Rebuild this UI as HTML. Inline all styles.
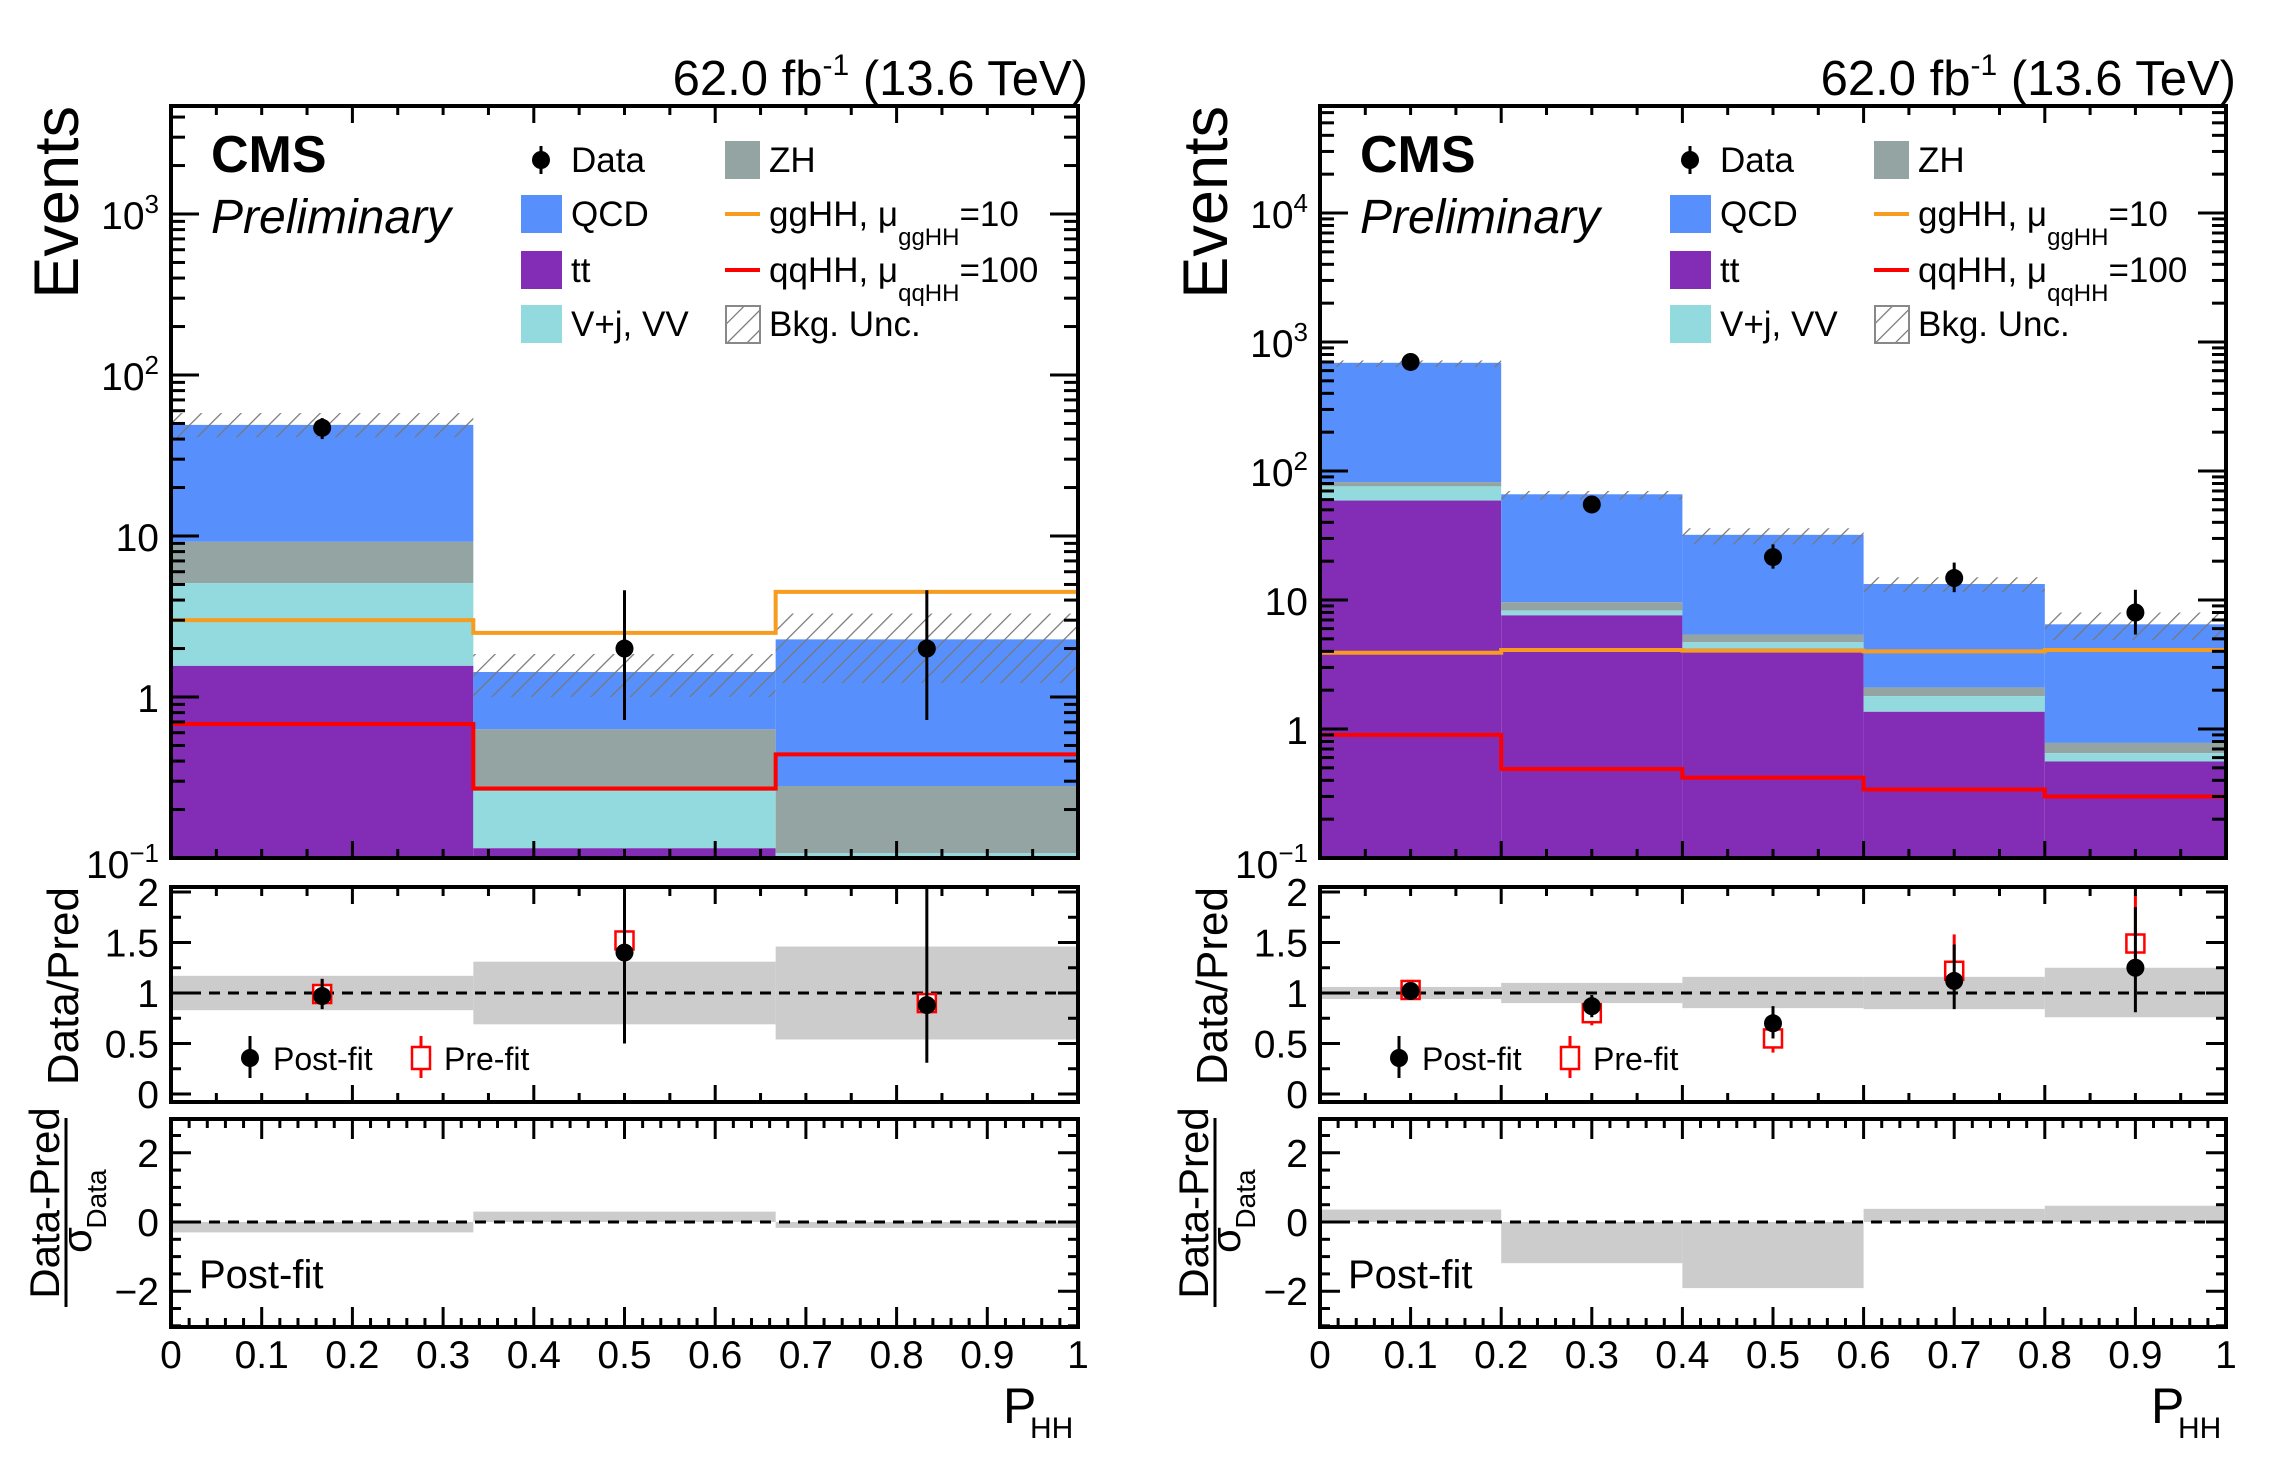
<!DOCTYPE html>
<html><head><meta charset="utf-8"><style>
html,body{margin:0;padding:0;background:#fff;}
svg{display:block;font-family:"Liberation Sans",Arial,sans-serif;}
</style></head><body>
<svg id="chart" width="2284" height="1468" viewBox="0 0 2284 1468" xmlns="http://www.w3.org/2000/svg">
<defs>
<pattern id="hatch" patternUnits="userSpaceOnUse" width="14" height="14" patternTransform="rotate(45)">
<line x1="0" y1="0" x2="0" y2="14" stroke="#777" stroke-width="2.5"/>
</pattern>
</defs>
</svg>
<script>
// ---------- LEFT PANEL DATA ----------
const leftEdges=[0,1/3,2/3,1];
const leftTT=[1.56,0.115,0.1];
const leftVJ=[3.54,0.145,0.007];
const leftZH=[4.1,0.37,0.173];
const leftQCD=[39.8,0.8,2.0];
const leftGG=[3.0,2.5,4.5];
const leftQQ=[0.68,0.27,0.44];
const leftUncLo=[41,1.0,1.22];
const leftUncHi=[58,1.85,3.3];
const leftData=[47,2,2];
const leftDataLo=[40,0.72,0.72];
const leftDataHi=[54,4.6,4.6];
const leftPost=[0.97,1.40,0.88];
const leftPostLo=[0.84,0.5,0.31];
const leftPostHi=[1.14,2.4,2.4];
const leftPre=[0.99,1.52,0.90];
const leftPreLo=[0.88,1.42,0.81];
const leftPreHi=[1.14,1.61,1.0];
const leftBandLo=[0.83,0.69,0.54];
const leftBandHi=[1.17,1.31,1.46];
const leftPull=[-0.3,0.3,-0.17];
const leftYLabels=[[3,"10","3"],[2,"10","2"],[1,"10",""],[0,"1",""],[-1,"10","\u22121"]];
// ---------- RIGHT PANEL DATA ----------
const rightEdges=[0,0.2,0.4,0.6,0.8,1];
const rightTT=[59,7.6,4.2,1.36,0.56];
const rightVJ=[17,0.7,0.5,0.44,0.09];
const rightZH=[6,1.3,0.7,0.3,0.13];
const rightQCD=[608,56.4,26.6,11.2,5.7];
const rightGG=[3.9,4.1,4.05,4.0,4.1];
const rightQQ=[0.9,0.49,0.42,0.34,0.30];
const rightUncLo=[640,60,27,11.5,4.9];
const rightUncHi=[720,70,36,15,8.0];
const rightData=[700,55,21.5,14.8,8];
const rightDataLo=[675,48,17.5,11.5,5.4];
const rightDataHi=[725,62,27,19.5,12];
const rightPost=[1.02,0.87,0.70,1.12,1.25];
const rightPostLo=[0.97,0.76,0.55,0.84,0.81];
const rightPostHi=[1.07,0.98,0.87,1.48,1.85];
const rightPre=[1.03,0.80,0.55,1.22,1.49];
const rightPreLo=[0.95,0.68,0.41,1.10,1.35];
const rightPreHi=[1.11,0.88,0.65,1.58,1.97];
const rightBandLo=[0.94,0.90,0.85,0.84,0.76];
const rightBandHi=[1.06,1.10,1.16,1.16,1.25];
const rightPull=[0.36,-1.19,-1.91,0.38,0.47];
const rightYLabels=[[4,"10","4"],[3,"10","3"],[2,"10","2"],[1,"10",""],[0,"1",""],[-1,"10","\u22121"]];
const xTickLabels=["0","0.1","0.2","0.3","0.4","0.5","0.6","0.7","0.8","0.9","1"];
const ratioTickLabels=["0","0.5","1","1.5","2"];
const pullTickLabels=["\u22122","0","2"];

const NS="http://www.w3.org/2000/svg";
const svg=document.getElementById("chart");
function mk(tag,parent,attrs){const e=document.createElementNS(NS,tag);for(const k in attrs)e.setAttribute(k,attrs[k]);parent.appendChild(e);return e;}

const COL={tt:"#832db6",vj:"#92dadd",zh:"#94a4a2",qcd:"#5790fc",gg:"#f89c20",qq:"#ff0000"};
const MT=106,MB=858,RT=887,RB=1102,PT=1119,PB=1327;

function panel(id,ox,x0,x1,dec,D){
  const g=mk("g",svg,{});
  
  
  const X=v=>x0+v*(x1-x0);
  const YM=v=>MB-(Math.log10(v)+1)*dec;
  const YR=v=>993-(v-1)*101;
  const YP=v=>1222-v*34.6;
  const defs=svg.querySelector("defs");
  const cpM=mk("clipPath",defs,{id:id+"cm"});mk("rect",cpM,{x:x0,y:MT,width:x1-x0,height:MB-MT});
  const cpR=mk("clipPath",defs,{id:id+"cr"});mk("rect",cpR,{x:x0,y:RT,width:x1-x0,height:RB-RT});
  const cpP=mk("clipPath",defs,{id:id+"cp"});mk("rect",cpP,{x:x0,y:PT,width:x1-x0,height:PB-PT});
  const gm=mk("g",g,{"clip-path":"url(#"+id+"cm)"});
  
  
  const E=D.edges;
  for(let i=0;i<E.length-1;i++){
    const xa=X(E[i]),xb=X(E[i+1]);
    const c1=D.tt[i],c2=c1+D.vj[i],c3=c2+D.zh[i],c4=c3+D.qcd[i];
    const r1=mk("rect",gm,{x:xa,y:YM(c4),width:xb-xa,height:YM(c3)-YM(c4),fill:COL.qcd});
    
    
    const r2=mk("rect",gm,{x:xa,y:YM(c3),width:xb-xa,height:YM(c2)-YM(c3),fill:COL.zh});
    
    
    const r3=mk("rect",gm,{x:xa,y:YM(c2),width:xb-xa,height:YM(c1)-YM(c2),fill:COL.vj});
    
    
    const r4=mk("rect",gm,{x:xa,y:YM(c1),width:xb-xa,height:MB-YM(c1)+5,fill:COL.tt});
    
    
    const h=mk("rect",gm,{x:xa,y:YM(D.uncHi[i]),width:xb-xa,height:YM(D.uncLo[i])-YM(D.uncHi[i]),fill:"url(#hatch)"});
    
    
  }
  function step(arr,col,name){
    let d="M"+X(E[0])+" "+YM(arr[0]);
    for(let i=0;i<arr.length;i++){d+=" H"+X(E[i+1]);if(i+1<arr.length)d+=" V"+YM(arr[i+1]);}
    const p=mk("path",gm,{d:d,fill:"none",stroke:col,"stroke-width":4});
    
    
  }
  step(D.gg,COL.gg,'gghh-line');
  step(D.qq,COL.qq,'qqhh-line');
  for(let i=0;i<D.data.length;i++){
    const cx=X((E[i]+E[i+1])/2);
    const l=mk("line",gm,{x1:cx,x2:cx,y1:YM(D.dHi[i]),y2:YM(D.dLo[i]),stroke:"#000","stroke-width":3});
    
    
    const c=mk("circle",gm,{cx:cx,cy:YM(D.data[i]),r:9,fill:"#000"});
    
    
  }
  const gr=mk("g",g,{"clip-path":"url(#"+id+"cr)"});
  
  
  for(let i=0;i<E.length-1;i++){
    const b=mk("rect",gr,{x:X(E[i]),y:YR(D.bHi[i]),width:X(E[i+1])-X(E[i]),height:YR(D.bLo[i])-YR(D.bHi[i]),fill:"#cccccc"});
    
    
  }
  const dl=mk("line",gr,{x1:x0,x2:x1,y1:YR(1),y2:YR(1),stroke:"#000","stroke-width":3,"stroke-dasharray":"11 8"});
  
  
  for(let i=0;i<D.post.length;i++){
    const cx=X((E[i]+E[i+1])/2);
    const pl=mk("line",gr,{x1:cx,x2:cx,y1:YR(D.preHi[i]),y2:YR(D.preLo[i]),stroke:"#f00","stroke-width":3});
    
    
    const pb=mk("rect",gr,{x:cx-9,y:YR(D.pre[i])-9,width:18,height:18,fill:"#fff",stroke:"#f00","stroke-width":2.5});
    
    
    const ql=mk("line",gr,{x1:cx,x2:cx,y1:YR(D.postHi[i]),y2:YR(D.postLo[i]),stroke:"#000","stroke-width":3});
    
    
    const qc=mk("circle",gr,{cx:cx,cy:YR(D.post[i]),r:9,fill:"#000"});
    
    
  }
  const lg=mk("g",g,{});
  
  
  mk("line",lg,{x1:ox+250,x2:ox+250,y1:1036,y2:1078,stroke:"#000","stroke-width":3});
  mk("circle",lg,{cx:ox+250,cy:1058,r:9,fill:"#000"});
  const t1=mk("text",lg,{x:ox+273,y:1070,"font-size":32});t1.textContent="Post-fit";
  mk("line",lg,{x1:ox+421,x2:ox+421,y1:1036,y2:1078,stroke:"#f00","stroke-width":3});
  mk("rect",lg,{x:ox+412,y:1047,width:18,height:22,fill:"#fff",stroke:"#f00","stroke-width":2.5});
  const t2=mk("text",lg,{x:ox+444,y:1070,"font-size":32});t2.textContent="Pre-fit";
  const gp=mk("g",g,{"clip-path":"url(#"+id+"cp)"});
  
  
  for(let i=0;i<D.pull.length;i++){
    const v=D.pull[i];
    const r=mk("rect",gp,{x:X(E[i]),y:Math.min(YP(0),YP(v)),width:X(E[i+1])-X(E[i]),height:Math.abs(YP(v)-YP(0)),fill:"#cccccc"});
    
    
  }
  const pl0=mk("line",gp,{x1:x0,x2:x1,y1:YP(0),y2:YP(0),stroke:"#000","stroke-width":3,"stroke-dasharray":"11 8"});
  
  
  const pf=mk("text",g,{x:ox+199,y:1288,"font-size":40});pf.textContent="Post-fit";
  
  
  const tk=mk("g",g,{stroke:"#000","stroke-width":3});
  
  
  function tl(xa,ya,xb,yb){mk("line",tk,{x1:xa,y1:ya,x2:xb,y2:yb});}
  for(let k=0;k<=20;k++){
    const x=X(k*0.05);const maj=(k%4===0);const L=maj?17:9;
    tl(x,MB,x,MB-L);tl(x,MT,x,MT+L);tl(x,RB,x,RB-L);tl(x,RT,x,RT+L);
  }
  for(let k=0;k<=50;k++){
    const x=X(k*0.02);const maj=(k%5===0);const L=maj?20:9;
    tl(x,PB,x,PB-L);tl(x,PT,x,PT+L);
  }
  for(let e=-1;e<=6;e++){
    for(let m=1;m<=9;m++){
      const v=m*Math.pow(10,e);const y=YM(v);if(y<MT||y>MB)continue;
      const L=(m===1)?28:14;tl(x0,y,x0+L,y);tl(x1,y,x1-L,y);
    }
  }
  for(let k=0;k<=8;k++){const y=YR(k*0.25);const L=(k%2===0)?20:10;tl(x0,y,x0+L,y);tl(x1,y,x1-L,y);}
  for(let k=-6;k<=6;k++){const y=YP(k*0.5);if(y<PT||y>PB)continue;const L=(k%4===0)?20:10;tl(x0,y,x0+L,y);tl(x1,y,x1-L,y);}
  for(const [a,b,n] of [[MT,MB,'main-frame'],[RT,RB,'ratio-frame'],[PT,PB,'pull-frame']]){
    const f=mk("rect",g,{x:x0,y:a,width:x1-x0,height:b-a,fill:"none",stroke:"#000","stroke-width":4});
    
    
  }
  const lab=mk("g",g,{"font-size":39});
  
  
  xTickLabels.forEach((s,k)=>{const t=mk("text",lab,{x:X(k/10),y:1368,"text-anchor":"middle"});t.textContent=s;});
  D.ylab.forEach(([e,b,sup])=>{
    let y=YM(Math.pow(10,e))+15; if(e===-1) y=MB+20;
    const t=mk("text",lab,{x:ox+159,y:y,"text-anchor":"end"});
    t.appendChild(document.createTextNode(b));
    if(sup){const s=mk("tspan",t,{"font-size":26,dy:-16});s.textContent=sup;}
  });
  ratioTickLabels.forEach((s,k)=>{const t=mk("text",lab,{x:ox+159,y:YR(k*0.5)+14,"text-anchor":"end"});t.textContent=s;});
  pullTickLabels.forEach((s,k)=>{const t=mk("text",lab,{x:ox+159,y:YP((k-1)*2)+14,"text-anchor":"end"});t.textContent=s;});
  const ev=mk("text",g,{transform:"translate("+(ox+78)+","+MT+") rotate(-90)","text-anchor":"end","font-size":63});ev.textContent="Events";
  
  
  const dp=mk("text",g,{transform:"translate("+(ox+78)+","+RT+") rotate(-90)","text-anchor":"end","font-size":44});dp.textContent="Data/Pred";
  
  
  const pn=mk("text",g,{transform:"translate("+(ox+59)+",1203) rotate(-90)","text-anchor":"middle","font-size":42});pn.textContent="Data-Pred";
  
  
  mk("line",g,{x1:ox+66,x2:ox+66,y1:1118,y2:1307,stroke:"#000","stroke-width":3});
  const sg=mk("text",g,{transform:"translate("+(ox+91)+",1240) rotate(-90)","text-anchor":"middle","font-size":42});sg.textContent="\u03c3";
  
  
  const sd=mk("text",g,{transform:"translate("+(ox+106)+",1199) rotate(-90)","text-anchor":"middle","font-size":28});sd.textContent="Data";
  const xp=mk("text",g,{x:x1-75,y:1423,"font-size":50});xp.textContent="P";
  
  
  const xs=mk("text",g,{x:x1-48,y:1438,"font-size":30});xs.textContent="HH";
  const lu=mk("text",g,{x:x1+10,y:95,"text-anchor":"end","font-size":49});
  
  
  lu.appendChild(document.createTextNode("62.0 fb"));
  const ls=mk("tspan",lu,{"font-size":30,dy:-20});ls.textContent="-1";
  const lr=mk("tspan",lu,{dy:20});lr.textContent=" (13.6 TeV)";
  const cms=mk("text",g,{x:ox+211,y:172,"font-size":52,"font-weight":"bold"});cms.textContent="CMS";
  
  
  const pr=mk("text",g,{x:ox+211,y:233,"font-size":48,"font-style":"italic"});pr.textContent="Preliminary";
  
  
  const L=mk("g",g,{"font-size":35});
  
  
  mk("line",L,{x1:ox+541,x2:ox+541,y1:146,y2:174,stroke:"#000","stroke-width":3});
  mk("circle",L,{cx:ox+541,cy:160,r:9,fill:"#000"});
  let t=mk("text",L,{x:ox+571,y:172});t.textContent="Data";
  const rows=[[COL.qcd,"QCD",214],[COL.tt,"tt",270],[COL.vj,"V+j, VV",324]];
  rows.forEach(([c,s,y])=>{mk("rect",L,{x:ox+521,y:y-19,width:41,height:38,fill:c});const tt=mk("text",L,{x:ox+571,y:y+12});tt.textContent=s;});
  mk("rect",L,{x:ox+725,y:141,width:35,height:38,fill:COL.zh});
  t=mk("text",L,{x:ox+769,y:172});t.textContent="ZH";
  mk("line",L,{x1:ox+725,x2:ox+760,y1:214,y2:214,stroke:COL.gg,"stroke-width":4});
  t=mk("text",L,{x:ox+769,y:226});t.appendChild(document.createTextNode("ggHH, \u03bc"));
  let sb=mk("tspan",t,{"font-size":24,dy:19});sb.textContent="ggHH";
  sb=mk("tspan",t,{dy:-19});sb.textContent="=10";
  mk("line",L,{x1:ox+725,x2:ox+760,y1:270,y2:270,stroke:COL.qq,"stroke-width":4});
  t=mk("text",L,{x:ox+769,y:282});t.appendChild(document.createTextNode("qqHH, \u03bc"));
  sb=mk("tspan",t,{"font-size":24,dy:19});sb.textContent="qqHH";
  sb=mk("tspan",t,{dy:-19});sb.textContent="=100";
  mk("rect",L,{x:ox+726,y:306,width:34,height:37,fill:"url(#hatch)",stroke:"#888","stroke-width":2});
  t=mk("text",L,{x:ox+769,y:336});t.textContent="Bkg. Unc.";
}

panel("left",0,171,1078,161,{edges:leftEdges,tt:leftTT,vj:leftVJ,zh:leftZH,qcd:leftQCD,gg:leftGG,qq:leftQQ,uncLo:leftUncLo,uncHi:leftUncHi,data:leftData,dLo:leftDataLo,dHi:leftDataHi,post:leftPost,postLo:leftPostLo,postHi:leftPostHi,pre:leftPre,preLo:leftPreLo,preHi:leftPreHi,bLo:leftBandLo,bHi:leftBandHi,pull:leftPull,ylab:leftYLabels});
panel("right",1149,1320,2226,129,{edges:rightEdges,tt:rightTT,vj:rightVJ,zh:rightZH,qcd:rightQCD,gg:rightGG,qq:rightQQ,uncLo:rightUncLo,uncHi:rightUncHi,data:rightData,dLo:rightDataLo,dHi:rightDataHi,post:rightPost,postLo:rightPostLo,postHi:rightPostHi,pre:rightPre,preLo:rightPreLo,preHi:rightPreHi,bLo:rightBandLo,bHi:rightBandHi,pull:rightPull,ylab:rightYLabels});
</script>
</body></html>
